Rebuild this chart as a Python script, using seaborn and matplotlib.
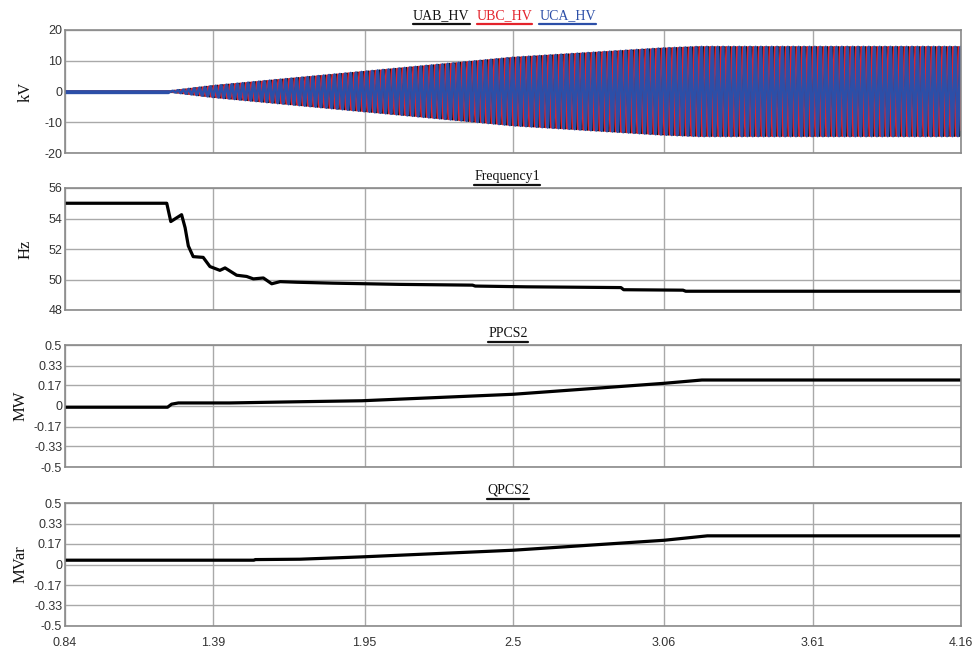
import numpy as np
import pandas as pd
import matplotlib
matplotlib.use("Agg")
import matplotlib.pyplot as plt
from matplotlib.lines import Line2D
import seaborn as sns

# ---------------- data ----------------
x_ticks = [0.84, 1.39, 1.95, 2.5, 3.06, 3.61, 4.16]
x_tick_labels = ["0.84", "1.39", "1.95", "2.5", "3.06", "3.61", "4.16"]

# voltage envelope (kV peak), carrier is a 50 Hz three-phase wave
v_env_t = [0.84, 1.22, 1.39, 2.08, 2.50, 3.05, 3.19, 4.16]
v_env_kv = [0.0, 0.0, 1.8, 7.5, 11.0, 14.0, 14.5, 14.5]
grid_freq_hz = 50.0
v_names = ["UAB_HV", "UBC_HV", "UCA_HV"]
v_colors = ["#111111", "#e3222b", "#2c4fa8"]
v_phase_deg = [0, -120, 120]
v_ticks = [-20, -10, 0, 10, 20]

freq_t = [0.84, 1.217, 1.232, 1.272, 1.285, 1.297, 1.315, 1.352, 1.377, 1.414,
          1.433, 1.476, 1.513, 1.538, 1.575, 1.606, 1.637, 1.70, 1.833, 2.08,
          2.35, 2.36, 2.55, 2.90, 2.91, 3.13, 3.14, 4.16]
freq_hz = [55.0, 55.0, 53.8, 54.25, 53.4, 52.2, 51.5, 51.45, 50.85, 50.6,
           50.76, 50.28, 50.2, 50.04, 50.1, 49.72, 49.86, 49.82, 49.76, 49.68,
           49.63, 49.57, 49.52, 49.47, 49.33, 49.3, 49.23, 49.23]
freq_ticks = [48, 50, 52, 54, 56]

p_t = [0.84, 1.22, 1.235, 1.26, 1.45, 1.71, 1.94, 2.5, 3.06, 3.20, 4.16]
p_mw = [-0.01, -0.01, 0.015, 0.025, 0.025, 0.035, 0.043, 0.096, 0.186, 0.213, 0.213]

q_t = [0.84, 1.54, 1.545, 1.71, 1.94, 2.5, 3.06, 3.22, 4.16]
q_mvar = [0.035, 0.035, 0.04, 0.043, 0.062, 0.116, 0.197, 0.233, 0.233]

pq_ticks = [-0.5, -0.33, -0.17, 0, 0.17, 0.33, 0.5]
pq_tick_labels = ["-0.5", "-0.33", "-0.17", "0", "0.17", "0.33", "0.5"]

# ---------------- style ----------------
sns.set_theme(style="white")
plt.rcParams["font.family"] = ["Liberation Sans", "DejaVu Sans"]
SERIF = ["Liberation Serif", "DejaVu Serif"]

W, H = 973, 655
fig = plt.figure(figsize=(W / 100, H / 100), dpi=100)
fig.patch.set_facecolor("white")

left_px, right_px = 65, 961
panels_px = [(30, 153), (188, 310), (345, 467), (503, 626)]
axes = []
for top, bot in panels_px:
    ax = fig.add_axes([left_px / W, 1 - bot / H, (right_px - left_px) / W, (bot - top) / H])
    axes.append(ax)

grid_col = "#a9a9a9"
spine_col = "#8a8a8a"

def style_axes(ax, yticks, ylabels, ylim, ylabel, last=False):
    ax.set_xlim(x_ticks[0], x_ticks[-1])
    ax.set_ylim(*ylim)
    ax.set_xticks(x_ticks)
    ax.set_yticks(yticks)
    ax.set_yticklabels(ylabels, fontsize=9, color="#333333")
    if last:
        ax.set_xticklabels(x_tick_labels, fontsize=9, color="#333333")
    else:
        ax.set_xticklabels([])
    ax.tick_params(axis="both", length=0, pad=2)
    ax.tick_params(axis="x", pad=8)
    ax.grid(True, color=grid_col, linewidth=1.0)
    ax.set_axisbelow(True)
    for s in ax.spines.values():
        s.set_color(spine_col)
        s.set_linewidth(1.2)
    ax.set_xlabel("")
    ax.set_ylabel(ylabel, family=SERIF, fontsize=12, color="#111111", labelpad=6)
    if ax.get_legend() is not None:
        ax.get_legend().remove()

# ---- panel 1: three phase voltages ----
t = np.arange(0.84, 4.16 + 1e-9, 0.0004)
env = np.interp(t, v_env_t, v_env_kv)
ax = axes[0]
for name, col, ph, lw in zip(v_names, v_colors, v_phase_deg, [1.4, 1.4, 1.9]):
    y = env * np.sin(2 * np.pi * grid_freq_hz * t + np.deg2rad(ph))
    df = pd.DataFrame({"t": t, "v": y})
    sns.lineplot(data=df, x="t", y="v", ax=ax, color=col, linewidth=lw,
                 estimator=None, sort=False)
# thick flat pre-start trace
pre = pd.DataFrame({"t": [v_env_t[0], v_env_t[1]], "v": [0.0, 0.0]})
sns.lineplot(data=pre, x="t", y="v", ax=ax, color=v_colors[2], linewidth=2.4,
             estimator=None, sort=False)
style_axes(ax, v_ticks, [str(v) for v in v_ticks], (-20, 20), "kV")

# ---- panel 2: frequency ----
ax = axes[1]
sns.lineplot(x=freq_t, y=freq_hz, ax=ax, color="black", linewidth=2.3,
             estimator=None, sort=False)
style_axes(ax, freq_ticks, [str(v) for v in freq_ticks], (48, 56), "Hz")

# ---- panel 3: P ----
ax = axes[2]
sns.lineplot(x=p_t, y=p_mw, ax=ax, color="black", linewidth=2.3,
             estimator=None, sort=False)
style_axes(ax, pq_ticks, pq_tick_labels, (-0.5, 0.5), "MW")

# ---- panel 4: Q ----
ax = axes[3]
sns.lineplot(x=q_t, y=q_mvar, ax=ax, color="black", linewidth=2.3,
             estimator=None, sort=False)
style_axes(ax, pq_ticks, pq_tick_labels, (-0.5, 0.5), "MVar", last=True)

# align y labels
for ax, xc in zip(axes, [-0.035, -0.035, -0.041, -0.041]):
    ax.yaxis.set_label_coords(xc, 0.5)

# ---------------- underlined titles ----------------
fig.canvas.draw()
renderer = fig.canvas.get_renderer()

def underlined(x_px, y_px, s, color, ha="center"):
    txt = fig.text(x_px / W, 1 - y_px / H, s, ha=ha, va="baseline",
                   family=SERIF, fontsize=10, color=color)
    bb = txt.get_window_extent(renderer=renderer)
    yl = (bb.y0 - 1.5) / H
    fig.add_artist(Line2D([bb.x0 / W, bb.x1 / W], [yl, yl], color=color,
                          linewidth=1.6, transform=fig.transFigure))
    return bb

# title of panel 1: three coloured names
xpos = 413
for name, col in zip(v_names, v_colors):
    bb = underlined(xpos, 19, name, col, ha="left")
    xpos = bb.x1 + 7

underlined(507, 180, "Frequency1", "#111111")
underlined(508, 337, "PPCS2", "#111111")
underlined(508, 494, "QPCS2", "#111111")

fig.savefig("out.png", dpi=100, facecolor="white")
